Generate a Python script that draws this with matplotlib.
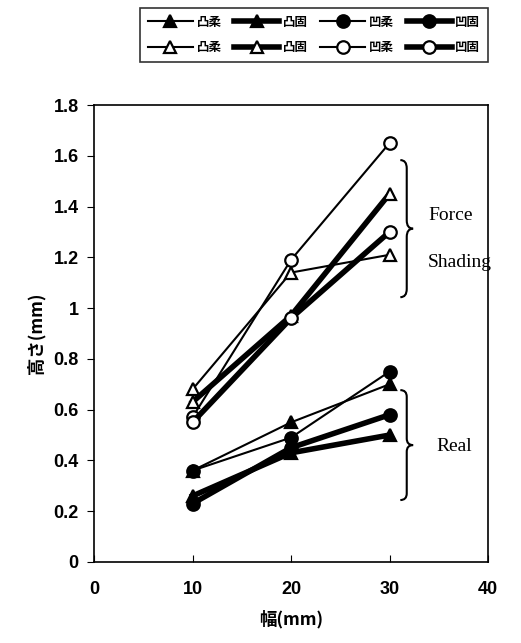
import matplotlib
matplotlib.use("Agg")
import matplotlib.pyplot as plt
from matplotlib.path import Path
from matplotlib.patches import PathPatch

plt.rcParams['font.family'] = ['Liberation Sans', 'Noto Sans CJK JP', 'DejaVu Sans']

# data
widths = [10, 20, 30]
labels = ['凸柔', '凸固', '凹柔', '凹固']
real_convex_soft = [0.36, 0.55, 0.70]
real_convex_hard = [0.26, 0.43, 0.50]
real_concave_soft = [0.36, 0.49, 0.75]
real_concave_hard = [0.23, 0.45, 0.58]
fs_convex_soft = [0.68, 1.14, 1.21]
fs_convex_hard = [0.63, 0.97, 1.45]
fs_concave_soft = [0.57, 1.19, 1.65]
fs_concave_hard = [0.55, 0.96, 1.30]
xticks = [0, 10, 20, 30, 40]
yticks = [0, 0.2, 0.4, 0.6, 0.8, 1.0, 1.2, 1.4, 1.6, 1.8]
ytick_labels = ['0', '0.2', '0.4', '0.6', '0.8', '1', '1.2', '1.4', '1.6', '1.8']

fig = plt.figure(figsize=(5.21, 6.43), dpi=100)
ax = fig.add_axes([94/521, 1-562/643, (488-94)/521, (562-105)/643])

thin, thick = 1.5, 4.0
series = [
    (real_convex_soft, '^', 'black', thin, labels[0]),
    (fs_convex_soft, '^', 'white', thin, labels[0]),
    (real_convex_hard, '^', 'black', thick, labels[1]),
    (fs_convex_hard, '^', 'white', thick, labels[1]),
    (real_concave_soft, 'o', 'black', thin, labels[2]),
    (fs_concave_soft, 'o', 'white', thin, labels[2]),
    (real_concave_hard, 'o', 'black', thick, labels[3]),
    (fs_concave_hard, 'o', 'white', thick, labels[3]),
]
handles = []
for vals, m, fc, lw, lab in series:
    h, = ax.plot(widths, vals, color='black', lw=lw, marker=m, markersize=9,
                 markerfacecolor=fc, markeredgecolor='black', markeredgewidth=1.6,
                 label=lab, zorder=3)
    handles.append(h)

ax.set_xlim(0, 40)
ax.set_ylim(0, 1.8)
ax.set_xticks(xticks)
ax.set_yticks(yticks)
ax.set_yticklabels(ytick_labels)
ax.tick_params(axis='x', direction='in', length=5, pad=14, labelsize=13)
ax.tick_params(axis='y', direction='out', length=5, pad=6, labelsize=13)
for t in ax.get_xticklabels() + ax.get_yticklabels():
    t.set_fontweight('bold')
for s in ax.spines.values():
    s.set_linewidth(1.2)

ax.set_xlabel('幅(mm)', fontsize=12.5, fontweight='bold', labelpad=8,
              family=['Noto Sans CJK JP', 'DejaVu Sans'])
ax.set_ylabel('高さ(mm)', fontsize=12.5, fontweight='bold', labelpad=6,
              family=['Noto Sans CJK JP', 'DejaVu Sans'])

def brace(ax, x0, x1, y0, y1):
    ym = (y0 + y1) / 2
    xm = (x0 + x1) / 2
    dy = (y1 - y0) * 0.06
    up = Path([(x0, y1), (xm, y1), (xm, y1 - dy), (xm, ym + dy), (xm, ym), (x1, ym)],
              [Path.MOVETO, Path.CURVE3, Path.CURVE3, Path.LINETO, Path.CURVE3, Path.CURVE3])
    lo = Path([(x0, y0), (xm, y0), (xm, y0 + dy), (xm, ym - dy), (xm, ym), (x1, ym)],
              [Path.MOVETO, Path.CURVE3, Path.CURVE3, Path.LINETO, Path.CURVE3, Path.CURVE3])
    for p in (up, lo):
        ax.add_patch(PathPatch(p, fill=False, lw=1.5, color='black', clip_on=False))

brace(ax, 31.1, 32.4, 1.043, 1.583)
brace(ax, 31.1, 32.4, 0.244, 0.677)

serif = ['Liberation Serif', 'DejaVu Serif']
ax.text(33.9, 1.366, 'Force', family=serif, fontsize=14, va='center', ha='left')
ax.text(33.9, 1.18, 'Shading', family=serif, fontsize=14, va='center', ha='left', clip_on=False)
ax.text(34.8, 0.453, 'Real', family=serif, fontsize=14, va='center', ha='left')

leg = fig.legend(handles=handles, ncol=4, loc='center',
                 bbox_to_anchor=((143+485)/2/521, 1-35/643),
                 prop={'family': ['Noto Sans CJK JP', 'DejaVu Sans'], 'size': 9, 'weight': 'bold'},
                 frameon=True, fancybox=False, edgecolor='black', handlelength=3.6,
                 handletextpad=0.3, columnspacing=1.0, borderpad=0.65, labelspacing=1.0)
leg.get_frame().set_linewidth(1.2)
for h in leg.legend_handles:
    h.set_markersize(9)

fig.savefig('out.png', dpi=100)
